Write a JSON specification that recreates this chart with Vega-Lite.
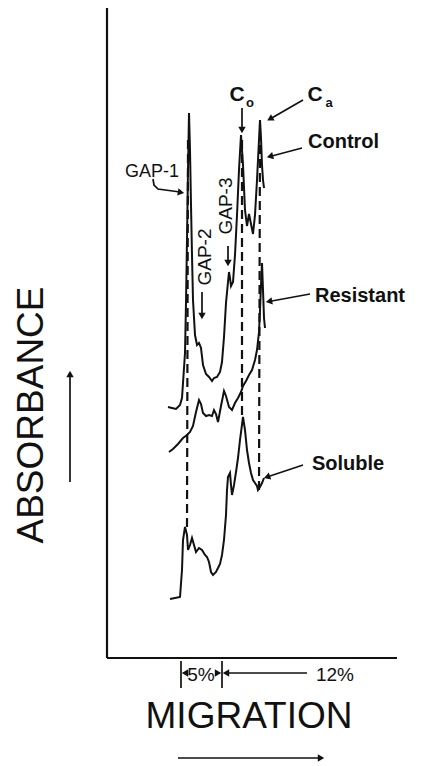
{
  "$schema": "https://vega.github.io/schema/vega-lite/v6.json",
  "width": 424,
  "height": 766,
  "autosize": {"type": "fit", "contains": "padding"},
  "padding": 0,
  "background": "white",
  "view": {"stroke": null},
  "config": {"font": "Liberation Sans"},
  "datasets": {
    "traces": [
      {"trace": "Control", "x": 168, "y": 407}, {"trace": "Control", "x": 172, "y": 408}, {"trace": "Control", "x": 176, "y": 409}, {"trace": "Control", "x": 180, "y": 405}, {"trace": "Control", "x": 182, "y": 398}, {"trace": "Control", "x": 183, "y": 383}, {"trace": "Control", "x": 184, "y": 368}, {"trace": "Control", "x": 185, "y": 353}, {"trace": "Control", "x": 186, "y": 303}, {"trace": "Control", "x": 187, "y": 240}, {"trace": "Control", "x": 188, "y": 170}, {"trace": "Control", "x": 189, "y": 113}, {"trace": "Control", "x": 190, "y": 150}, {"trace": "Control", "x": 191, "y": 205}, {"trace": "Control", "x": 192, "y": 255}, {"trace": "Control", "x": 193, "y": 300}, {"trace": "Control", "x": 195, "y": 335}, {"trace": "Control", "x": 197, "y": 345}, {"trace": "Control", "x": 199, "y": 343}, {"trace": "Control", "x": 201, "y": 348}, {"trace": "Control", "x": 203, "y": 365}, {"trace": "Control", "x": 206, "y": 374}, {"trace": "Control", "x": 209, "y": 377}, {"trace": "Control", "x": 212, "y": 381}, {"trace": "Control", "x": 214, "y": 378}, {"trace": "Control", "x": 217, "y": 377}, {"trace": "Control", "x": 220, "y": 372}, {"trace": "Control", "x": 222, "y": 362}, {"trace": "Control", "x": 224, "y": 337}, {"trace": "Control", "x": 226, "y": 303}, {"trace": "Control", "x": 228, "y": 282}, {"trace": "Control", "x": 229, "y": 272}, {"trace": "Control", "x": 230, "y": 278}, {"trace": "Control", "x": 231, "y": 286}, {"trace": "Control", "x": 233, "y": 282}, {"trace": "Control", "x": 235, "y": 255}, {"trace": "Control", "x": 237, "y": 215}, {"trace": "Control", "x": 239, "y": 170}, {"trace": "Control", "x": 241, "y": 135}, {"trace": "Control", "x": 243, "y": 165}, {"trace": "Control", "x": 245, "y": 210}, {"trace": "Control", "x": 247, "y": 226}, {"trace": "Control", "x": 249, "y": 214}, {"trace": "Control", "x": 251, "y": 224}, {"trace": "Control", "x": 253, "y": 234}, {"trace": "Control", "x": 255, "y": 215}, {"trace": "Control", "x": 257, "y": 180}, {"trace": "Control", "x": 259, "y": 140}, {"trace": "Control", "x": 260, "y": 120}, {"trace": "Control", "x": 261, "y": 138}, {"trace": "Control", "x": 262, "y": 165}, {"trace": "Control", "x": 263, "y": 180}, {"trace": "Control", "x": 264, "y": 188},
      {"trace": "Resistant", "x": 169, "y": 452}, {"trace": "Resistant", "x": 173, "y": 449}, {"trace": "Resistant", "x": 178, "y": 444}, {"trace": "Resistant", "x": 183, "y": 438}, {"trace": "Resistant", "x": 187, "y": 435}, {"trace": "Resistant", "x": 190, "y": 432}, {"trace": "Resistant", "x": 193, "y": 426}, {"trace": "Resistant", "x": 196, "y": 412}, {"trace": "Resistant", "x": 199, "y": 400}, {"trace": "Resistant", "x": 201, "y": 404}, {"trace": "Resistant", "x": 203, "y": 413}, {"trace": "Resistant", "x": 206, "y": 416}, {"trace": "Resistant", "x": 209, "y": 415}, {"trace": "Resistant", "x": 212, "y": 416}, {"trace": "Resistant", "x": 214, "y": 410}, {"trace": "Resistant", "x": 216, "y": 414}, {"trace": "Resistant", "x": 218, "y": 422}, {"trace": "Resistant", "x": 221, "y": 406}, {"trace": "Resistant", "x": 224, "y": 391}, {"trace": "Resistant", "x": 226, "y": 396}, {"trace": "Resistant", "x": 229, "y": 407}, {"trace": "Resistant", "x": 232, "y": 410}, {"trace": "Resistant", "x": 235, "y": 403}, {"trace": "Resistant", "x": 238, "y": 398}, {"trace": "Resistant", "x": 241, "y": 392}, {"trace": "Resistant", "x": 243, "y": 386}, {"trace": "Resistant", "x": 246, "y": 381}, {"trace": "Resistant", "x": 249, "y": 375}, {"trace": "Resistant", "x": 252, "y": 370}, {"trace": "Resistant", "x": 255, "y": 360}, {"trace": "Resistant", "x": 257, "y": 350}, {"trace": "Resistant", "x": 259, "y": 332}, {"trace": "Resistant", "x": 260, "y": 310}, {"trace": "Resistant", "x": 261, "y": 285}, {"trace": "Resistant", "x": 262, "y": 263}, {"trace": "Resistant", "x": 263, "y": 290}, {"trace": "Resistant", "x": 264, "y": 318}, {"trace": "Resistant", "x": 265, "y": 328},
      {"trace": "Soluble", "x": 170, "y": 599}, {"trace": "Soluble", "x": 175, "y": 598}, {"trace": "Soluble", "x": 180, "y": 597}, {"trace": "Soluble", "x": 182, "y": 570}, {"trace": "Soluble", "x": 183, "y": 540}, {"trace": "Soluble", "x": 185, "y": 527}, {"trace": "Soluble", "x": 187, "y": 535}, {"trace": "Soluble", "x": 188, "y": 550}, {"trace": "Soluble", "x": 190, "y": 545}, {"trace": "Soluble", "x": 192, "y": 538}, {"trace": "Soluble", "x": 194, "y": 545}, {"trace": "Soluble", "x": 196, "y": 552}, {"trace": "Soluble", "x": 199, "y": 548}, {"trace": "Soluble", "x": 202, "y": 550}, {"trace": "Soluble", "x": 205, "y": 555}, {"trace": "Soluble", "x": 207, "y": 557}, {"trace": "Soluble", "x": 209, "y": 562}, {"trace": "Soluble", "x": 211, "y": 572}, {"trace": "Soluble", "x": 213, "y": 575}, {"trace": "Soluble", "x": 216, "y": 572}, {"trace": "Soluble", "x": 218, "y": 568}, {"trace": "Soluble", "x": 220, "y": 564}, {"trace": "Soluble", "x": 222, "y": 555}, {"trace": "Soluble", "x": 224, "y": 540}, {"trace": "Soluble", "x": 226, "y": 515}, {"trace": "Soluble", "x": 227, "y": 490}, {"trace": "Soluble", "x": 228, "y": 477}, {"trace": "Soluble", "x": 230, "y": 473}, {"trace": "Soluble", "x": 231, "y": 485}, {"trace": "Soluble", "x": 232, "y": 495}, {"trace": "Soluble", "x": 234, "y": 485}, {"trace": "Soluble", "x": 236, "y": 472}, {"trace": "Soluble", "x": 238, "y": 458}, {"trace": "Soluble", "x": 240, "y": 440}, {"trace": "Soluble", "x": 243, "y": 417}, {"trace": "Soluble", "x": 245, "y": 430}, {"trace": "Soluble", "x": 247, "y": 450}, {"trace": "Soluble", "x": 249, "y": 463}, {"trace": "Soluble", "x": 251, "y": 473}, {"trace": "Soluble", "x": 253, "y": 480}, {"trace": "Soluble", "x": 255, "y": 483}, {"trace": "Soluble", "x": 257, "y": 486}, {"trace": "Soluble", "x": 258, "y": 490}, {"trace": "Soluble", "x": 260, "y": 487}, {"trace": "Soluble", "x": 262, "y": 483}, {"trace": "Soluble", "x": 264, "y": 478}
    ],
    "dashes": [
      {"id": "GAP-1", "x": 188, "y": 140}, {"id": "GAP-1", "x": 187, "y": 527},
      {"id": "Co", "x": 242, "y": 140}, {"id": "Co", "x": 242, "y": 417},
      {"id": "Ca", "x": 260, "y": 125}, {"id": "Ca", "x": 259, "y": 490}
    ],
    "frame": [
      {"id": "left", "x": 107, "y": 8}, {"id": "left", "x": 107, "y": 658},
      {"id": "bottom", "x": 107, "y": 658}, {"id": "bottom", "x": 397, "y": 658}
    ],
    "arrows": [
      {"id": "gap1", "x": 153, "y": 179}, {"id": "gap1", "x": 154, "y": 185}, {"id": "gap1", "x": 158, "y": 189}, {"id": "gap1", "x": 180, "y": 192},
      {"id": "gap2", "x": 202, "y": 292}, {"id": "gap2", "x": 202, "y": 314},
      {"id": "gap3", "x": 228, "y": 246}, {"id": "gap3", "x": 228, "y": 261},
      {"id": "co", "x": 242, "y": 108}, {"id": "co", "x": 242, "y": 128},
      {"id": "ca", "x": 270, "y": 119}, {"id": "ca", "x": 303, "y": 100},
      {"id": "control", "x": 270, "y": 156.5}, {"id": "control", "x": 302, "y": 148},
      {"id": "resistant", "x": 269, "y": 301.5}, {"id": "resistant", "x": 310, "y": 294},
      {"id": "soluble", "x": 267, "y": 477}, {"id": "soluble", "x": 303, "y": 465},
      {"id": "absorbance", "x": 70, "y": 482}, {"id": "absorbance", "x": 70, "y": 377},
      {"id": "migration", "x": 178, "y": 758}, {"id": "migration", "x": 318, "y": 758},
      {"id": "pct12", "x": 227, "y": 673}, {"id": "pct12", "x": 307, "y": 673},
      {"id": "tickL", "x": 181, "y": 661}, {"id": "tickL", "x": 181, "y": 688},
      {"id": "tickR", "x": 222, "y": 661}, {"id": "tickR", "x": 222, "y": 688}
    ],
    "heads": [
      {"x": 181, "y": 192.5, "angle": 100},
      {"x": 202, "y": 316, "angle": 180},
      {"x": 228, "y": 263, "angle": 180},
      {"x": 242, "y": 130, "angle": 180},
      {"x": 270, "y": 119, "angle": 240},
      {"x": 270, "y": 156.5, "angle": 255},
      {"x": 269, "y": 301.5, "angle": 260},
      {"x": 267, "y": 477, "angle": 251},
      {"x": 70, "y": 374, "angle": 0},
      {"x": 321, "y": 758, "angle": 90},
      {"x": 226, "y": 673, "angle": 270},
      {"x": 185, "y": 673, "angle": 270},
      {"x": 218, "y": 673, "angle": 90}
    ],
    "bold": [
      {"label": "Control", "x": 308, "y": 141.5},
      {"label": "Resistant", "x": 315, "y": 296},
      {"label": "Soluble", "x": 312, "y": 463.5}
    ],
    "gap1": [{"label": "GAP-1", "x": 179, "y": 172}],
    "rotated": [
      {"label": "GAP-2", "x": 205, "y": 257},
      {"label": "GAP-3", "x": 226, "y": 206}
    ],
    "cee": [
      {"label": "C", "x": 237, "y": 95},
      {"label": "C", "x": 315, "y": 95}
    ],
    "subs": [
      {"label": "o", "x": 250, "y": 103},
      {"label": "a", "x": 329, "y": 103}
    ],
    "pct": [
      {"label": "5%", "x": 201, "y": 675},
      {"label": "12%", "x": 335, "y": 675}
    ],
    "ytitle": [{"label": "ABSORBANCE", "x": 32, "y": 415}],
    "xtitle": [{"label": "MIGRATION", "x": 249, "y": 717}]
  },
  "encoding": {
    "x": {"field": "x", "type": "quantitative", "scale": {"domain": [0, 424], "nice": false, "zero": false}, "axis": null},
    "y": {"field": "y", "type": "quantitative", "scale": {"domain": [0, 766], "reverse": true, "nice": false, "zero": false}, "axis": null}
  },
  "layer": [
    {"data": {"name": "frame"}, "mark": {"type": "line", "color": "#111", "strokeWidth": 2.2}, "encoding": {"detail": {"field": "id"}}},
    {"data": {"name": "dashes"}, "mark": {"type": "line", "color": "#111", "strokeWidth": 2.2, "strokeDash": [9, 5]}, "encoding": {"detail": {"field": "id"}}},
    {"data": {"name": "traces"}, "mark": {"type": "line", "color": "#111", "strokeWidth": 2}, "encoding": {"detail": {"field": "trace"}}},
    {"data": {"name": "arrows"}, "mark": {"type": "line", "color": "#111", "strokeWidth": 1.7}, "encoding": {"detail": {"field": "id"}}},
    {"data": {"name": "heads"}, "mark": {"type": "point", "shape": "triangle-up", "filled": true, "color": "#111", "size": 55, "opacity": 1}, "encoding": {"angle": {"field": "angle", "type": "quantitative", "scale": null}}},
    {"data": {"name": "bold"}, "mark": {"type": "text", "fontSize": 20, "fontWeight": "bold", "align": "left", "baseline": "middle", "color": "#111"}, "encoding": {"text": {"field": "label"}}},
    {"data": {"name": "gap1"}, "mark": {"type": "text", "fontSize": 18, "align": "right", "baseline": "middle", "color": "#111"}, "encoding": {"text": {"field": "label"}}},
    {"data": {"name": "rotated"}, "mark": {"type": "text", "fontSize": 19, "angle": 270, "align": "center", "baseline": "middle", "color": "#111"}, "encoding": {"text": {"field": "label"}}},
    {"data": {"name": "cee"}, "mark": {"type": "text", "fontSize": 21, "fontWeight": "bold", "align": "center", "baseline": "middle", "color": "#111"}, "encoding": {"text": {"field": "label"}}},
    {"data": {"name": "subs"}, "mark": {"type": "text", "fontSize": 13, "fontWeight": "bold", "align": "center", "baseline": "middle", "color": "#111"}, "encoding": {"text": {"field": "label"}}},
    {"data": {"name": "pct"}, "mark": {"type": "text", "fontSize": 19, "align": "center", "baseline": "middle", "color": "#111"}, "encoding": {"text": {"field": "label"}}},
    {"data": {"name": "ytitle"}, "mark": {"type": "text", "fontSize": 37, "angle": 270, "align": "center", "baseline": "middle", "color": "#111"}, "encoding": {"text": {"field": "label"}}},
    {"data": {"name": "xtitle"}, "mark": {"type": "text", "fontSize": 37, "align": "center", "baseline": "middle", "color": "#111"}, "encoding": {"text": {"field": "label"}}}
  ]
}
